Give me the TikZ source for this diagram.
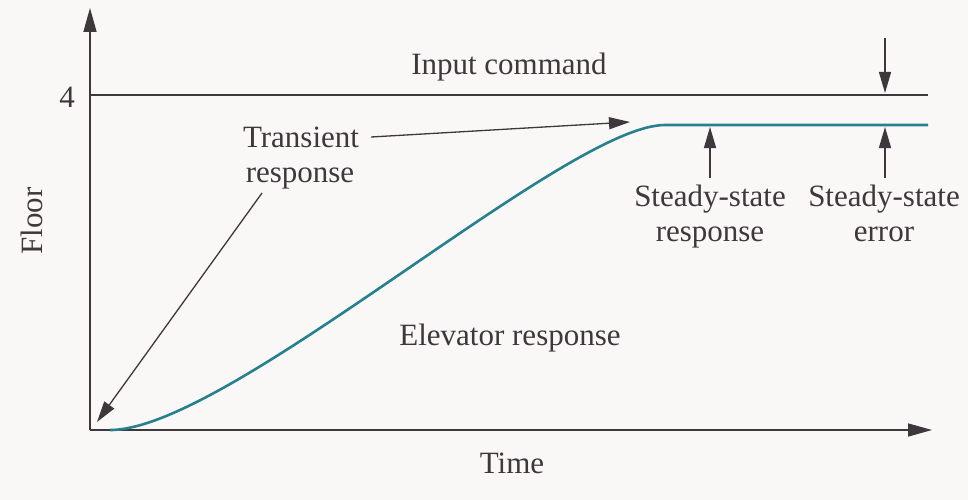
\documentclass[tikz,border=0pt]{standalone}
\usepackage{fontspec}
\setmainfont{Liberation Serif}
\usetikzlibrary{arrows.meta}
\definecolor{paper}{RGB}{250,247,247}
\definecolor{ink}{RGB}{62,56,60}
\definecolor{teal}{RGB}{38,128,142}
\tikzset{
  lbl/.style={text=ink, inner sep=0pt, anchor=base, font=\fontsize{31}{35}\selectfont},
  axis/.style={draw=ink, line width=1.6pt, -{Triangle[length=24pt,width=13pt]}},
  pointer/.style={draw=ink, line width=1.3pt, -{Triangle[length=21pt,width=12pt]}},
}
\begin{document}
\begin{tikzpicture}[x=1pt, y=-1pt]
    \fill[paper] (0,0) rectangle (968,500);
    \useasboundingbox (0,0) rectangle (968,500);

    % Axes
    \coordinate (o) at (90,430);
    \coordinate (ytip) at (90,8);
    \coordinate (xtip) at (932,430);
    \draw[axis] (o)--(ytip);
    \draw[axis] (o)--(xtip);

    % Input command and response levels
    \coordinate (in0) at (90,95);   \coordinate (in1) at (928,95);
    \draw[ink, line width=1.6pt] (in0)--(in1);
    \coordinate (r0) at (110,430);  \coordinate (r1) at (665,125); \coordinate (r2) at (928,125);
    \draw[teal, line width=2.6pt] (r0) .. controls (229,430) and (566,125) .. (r1) -- (r2);

    % Labels
    \node[lbl] (four) at (67,107) {4};
    \node[lbl] (cmd) at (509,75) {Input command};
    \node[lbl] (tr1) at (301,147) {Transient}; \node[lbl] (tr2) at (300,182) {response};
    \node[lbl] (ssr1) at (710,206) {Steady-state}; \node[lbl] (ssr2) at (710,241) {response};
    \node[lbl] (sse1) at (884,206) {Steady-state}; \node[lbl] (sse2) at (884,241) {error};
    \node[lbl] (elev) at (510,345) {Elevator response};
    \node[lbl] (time) at (512,473) {Time};
    \node[lbl, rotate=90] (floor) at (42,221) {Floor};

    % Pointers
    \coordinate (knee) at (630,122);
    \coordinate (start) at (97,422);
    \coordinate (ssr) at (710,127);
    \coordinate (errtop) at (885,38); \coordinate (errin) at (885,93); \coordinate (errss) at (885,127);
    \draw[pointer] ([xshift=12pt,yshift=10pt]tr1.base east)--(knee);
    \draw[pointer] ([xshift=-38pt,yshift=-11pt]tr2.base)--(start);
    \draw[pointer] ([yshift=28pt]ssr1.base)--(ssr);
    \draw[pointer] ([xshift=1pt,yshift=28pt]sse1.base)--(errss);
    \draw[pointer] (errtop)--(errin);
\end{tikzpicture}
\end{document}
